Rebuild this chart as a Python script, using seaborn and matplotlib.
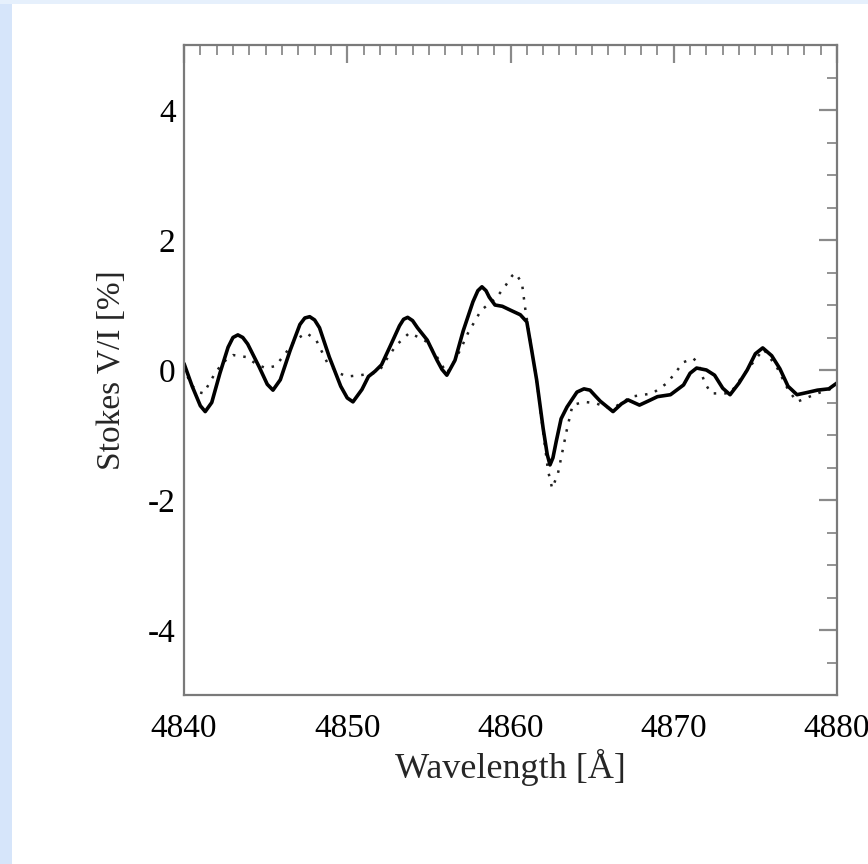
import matplotlib
matplotlib.use("Agg")
import matplotlib.pyplot as plt
import seaborn as sns
import pandas as pd
from matplotlib.ticker import MultipleLocator
from matplotlib.patches import Rectangle

# Solid curve (observed Stokes V/I)
obs_wave = [4840.0, 4840.5, 4841.0, 4841.3, 4841.7, 4842.2, 4842.7, 4843.0, 4843.3, 4843.6, 4843.9, 4844.6,
            4845.1, 4845.45, 4845.9, 4846.5, 4847.1, 4847.4, 4847.7, 4848.0, 4848.3, 4848.9, 4849.6, 4850.0, 4850.35,
            4850.9, 4851.3, 4851.7, 4852.1, 4852.6, 4853.2, 4853.45, 4853.7, 4854.0, 4854.3, 4854.9, 4855.5, 4855.8,
            4856.1, 4856.6, 4857.1, 4857.7, 4858.0, 4858.25, 4858.5, 4858.7, 4859.05, 4859.5, 4860.0, 4860.6,
            4861.0, 4861.3, 4861.6, 4862.0, 4862.25, 4862.42, 4862.6, 4862.8, 4863.1, 4863.46, 4864.07, 4864.5,
            4864.87, 4865.2, 4865.5, 4866.28, 4866.8, 4867.2, 4867.9, 4868.5, 4869.0, 4869.8,
            4870.6, 4871.0, 4871.4, 4872.0, 4872.5, 4873.0, 4873.45, 4874.0, 4874.5, 4875.0,
            4875.45, 4876.0, 4876.5, 4877.0, 4877.55, 4878.1, 4878.8, 4879.5, 4880.0]
obs_v = [0.10, -0.25, -0.55, -0.64, -0.50, -0.05, 0.35, 0.50, 0.54, 0.50, 0.40, 0.05,
         -0.22, -0.31, -0.15, 0.30, 0.70, 0.80, 0.82, 0.77, 0.65, 0.20, -0.25, -0.43, -0.49,
         -0.30, -0.10, -0.02, 0.08, 0.35, 0.68, 0.78, 0.81, 0.76, 0.65, 0.46, 0.15, 0.01,
         -0.08, 0.15, 0.60, 1.05, 1.22, 1.28, 1.22, 1.12, 1.00, 0.98, 0.92, 0.85,
         0.74, 0.30, -0.15, -0.90, -1.30, -1.46, -1.35, -1.10, -0.75, -0.57, -0.34, -0.29,
         -0.31, -0.40, -0.48, -0.64, -0.52, -0.46, -0.54, -0.47, -0.41, -0.38,
         -0.23, -0.05, 0.03, 0.00, -0.08, -0.28, -0.38, -0.20, 0.00, 0.25,
         0.34, 0.22, 0.02, -0.25, -0.38, -0.35, -0.31, -0.29, -0.20]

# Dotted curve (model Stokes V/I)
mod_wave = [4840.0, 4840.4, 4840.9, 4841.2, 4841.9, 4842.4, 4843.0, 4843.8, 4844.5, 4845.0,
            4845.6, 4846.2, 4846.8, 4847.5, 4848.1, 4848.8, 4849.5, 4850.0, 4850.8, 4851.6,
            4852.0, 4852.5, 4853.0, 4853.8, 4854.4, 4854.9, 4855.5, 4856.1, 4856.6, 4857.0,
            4857.4, 4858.2, 4859.1, 4859.7, 4860.1, 4860.3, 4860.7, 4860.9, 4861.2, 4861.6,
            4862.0, 4862.3, 4862.55, 4862.9, 4863.45, 4863.8, 4864.5, 4865.2, 4866.2, 4867.4,
            4868.7, 4869.6, 4870.6, 4871.2, 4871.5, 4871.9, 4872.3, 4873.45, 4874.5, 4875.5,
            4876.3, 4877.0, 4877.55, 4878.8, 4879.75, 4880.0]
mod_v = [0.05, -0.22, -0.34, -0.36, -0.05, 0.12, 0.23, 0.20, 0.08, 0.03,
         0.06, 0.25, 0.46, 0.57, 0.46, 0.10, -0.05, -0.10, -0.08, -0.05,
         0.00, 0.20, 0.38, 0.57, 0.50, 0.43, 0.20, -0.05, 0.15, 0.35,
         0.57, 0.92, 1.10, 1.30, 1.45, 1.49, 1.34, 0.95, 0.46, -0.15,
         -0.95, -1.55, -1.82, -1.60, -0.92, -0.54, -0.49, -0.51, -0.60, -0.41,
         -0.36, -0.20, 0.12, 0.18, 0.10, -0.20, -0.36, -0.36, 0.00, 0.32,
         0.05, -0.30, -0.49, -0.36, -0.28, -0.25]

x_ticks = [4840, 4850, 4860, 4870, 4880]
y_ticks = [-4, -2, 0, 2, 4]

sns.set_style("white")
plt.rcParams['font.family'] = ['Liberation Serif', 'DejaVu Serif']

fig = plt.figure(figsize=(8.68, 8.64), dpi=100)
fig.patch.set_facecolor('white')
# light-blue frame strips on left and top
fig.patches.append(Rectangle((0, 0), 12 / 868, 1, transform=fig.transFigure,
                             facecolor='#d6e5fa', edgecolor='none', zorder=0))
fig.patches.append(Rectangle((0, 1 - 4 / 864), 1, 4 / 864, transform=fig.transFigure,
                             facecolor='#e6f0fc', edgecolor='none', zorder=0))

ax = fig.add_axes([184 / 868, 1 - 695 / 864, 653 / 868, 650 / 864])

df_obs = pd.DataFrame({'wave': obs_wave, 'v': obs_v})
df_mod = pd.DataFrame({'wave': mod_wave, 'v': mod_v})
sns.lineplot(data=df_mod, x='wave', y='v', ax=ax, color='#222222', lw=1.8,
             linestyle=(0, (1, 3.2)), sort=False, dash_capstyle='butt')
sns.lineplot(data=df_obs, x='wave', y='v', ax=ax, color='black', lw=2.6, sort=False,
             solid_joinstyle='round', solid_capstyle='round')

ax.set_xlim(4840, 4880)
ax.set_ylim(-5, 5)
ax.set_xticks(x_ticks)
ax.set_yticks(y_ticks)
ax.set_xticklabels([str(t) for t in x_ticks])
ax.set_yticklabels([str(t) for t in y_ticks])
ax.xaxis.set_minor_locator(MultipleLocator(1))
ax.yaxis.set_minor_locator(MultipleLocator(0.5))

for s in ax.spines.values():
    s.set_visible(True)
    s.set_color('#7a7a7a')
    s.set_linewidth(1.6)

ax.tick_params(which='both', direction='in', top=True, right=True, color='#8a8a8a')
ax.tick_params(which='major', length=13, width=1.6, labelsize=24, colors='#8a8a8a',
               labelcolor='black')
ax.tick_params(which='minor', length=7, width=1.3)
ax.tick_params(axis='x', which='major', pad=13)
ax.tick_params(axis='y', which='major', pad=6)

ax.set_xlabel('Wavelength [Å]', fontsize=26, labelpad=4)
ax.set_ylabel('Stokes V/I [%]', fontsize=24, labelpad=15)

fig.savefig('out.png', dpi=100, facecolor=fig.get_facecolor())
